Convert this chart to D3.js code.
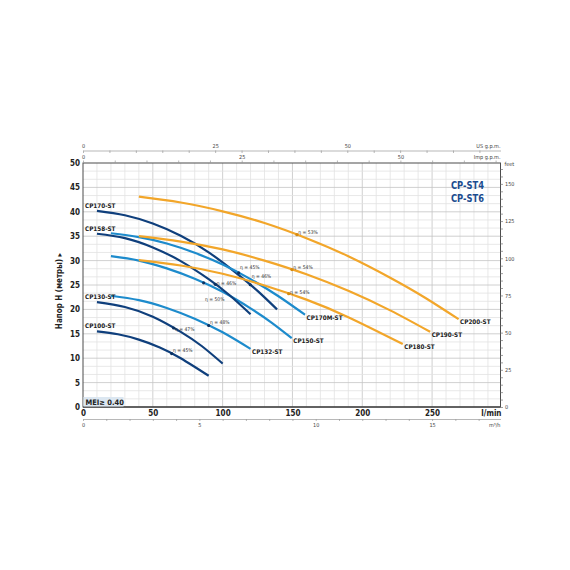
<!DOCTYPE html>
<html>
<head>
<meta charset="utf-8">
<script src="https://cdn.jsdelivr.net/npm/d3@7"></script>
<style>
  body { margin: 0; background: #fff; }
  svg { display: block; }
  text { font-family: "Liberation Sans Narrow", "DejaVu Sans Condensed", "Liberation Sans", sans-serif; }
</style>
</head>
<body>
<svg id="chart"></svg>
<script>
var width = 570;
var height = 570;

// pump curves, Q in l/min, H in metres
var cp100Q = [10, 25, 40, 55, 70, 90];
var cp100H = [15.5, 14.9, 13.8, 12.2, 10.0, 6.4];
var cp130Q = [10, 30, 50, 70, 85, 100];
var cp130H = [21.5, 20.5, 18.5, 15.4, 12.5, 8.9];
var cp132Q = [20, 40, 60, 80, 100, 120];
var cp132H = [22.8, 21.9, 20.3, 18.1, 15.3, 11.9];
var cp150Q = [20, 40, 60, 80, 100, 120, 135, 149.5];
var cp150H = [30.9, 30.0, 28.4, 26.3, 23.6, 20.2, 17.3, 14.1];
var cp158Q = [10, 30, 50, 70, 90, 105, 120];
var cp158H = [35.5, 34.6, 32.7, 29.9, 26.2, 22.9, 19.0];
var cp170Q = [10, 30, 50, 70, 90, 110, 125, 139];
var cp170H = [40.2, 39.3, 37.6, 35.1, 31.7, 27.4, 23.8, 20.0];
var cp170mQ = [20, 40, 60, 80, 100, 120, 140, 159];
var cp170mH = [35.6, 34.8, 33.5, 31.6, 29.2, 26.2, 22.7, 18.9];
var cp180Q = [40, 70, 100, 130, 160, 190, 229];
var cp180H = [30.1, 29.0, 27.3, 24.9, 22.0, 18.4, 12.9];
var cp190Q = [40, 70, 100, 130, 160, 190, 220, 248.6];
var cp190H = [35.0, 33.9, 32.3, 30.0, 27.2, 23.8, 19.8, 15.4];
var cp200Q = [40, 70, 100, 130, 160, 190, 220, 245, 269];
var cp200H = [43.1, 41.9, 40.1, 37.7, 34.6, 30.9, 26.5, 22.4, 18.0];

var pumpNames = ["CP100-ST", "CP130-ST", "CP132-ST", "CP150-ST", "CP158-ST",
                 "CP170-ST", "CP170M-ST", "CP180-ST", "CP190-ST", "CP200-ST"];
var pumpGroup = ["dark", "dark", "light", "light", "dark",
                 "dark", "light", "orange", "orange", "orange"];
var pumpLabelSide = ["left", "left", "right", "right", "left",
                     "left", "right", "right", "right", "right"];
var pumpQ = [cp100Q, cp130Q, cp132Q, cp150Q, cp158Q, cp170Q, cp170mQ, cp180Q, cp190Q, cp200Q];
var pumpH = [cp100H, cp130H, cp132H, cp150H, cp158H, cp170H, cp170mH, cp180H, cp190H, cp200H];

// efficiency notes: which pump, text, where the note starts (l/min, m)
var etaPump = ["CP200-ST", "CP190-ST", "CP180-ST", "CP170M-ST", "CP170-ST",
               "CP158-ST", "CP150-ST", "CP132-ST", "CP130-ST", "CP100-ST"];
var etaText = ["η = 53%", "η = 54%", "η = 54%", "η = 45%", "η = 46%",
               "η = 46%", "η = 50%", "η = 48%", "η = 47%", "η = 45%"];
var etaQ = [154.2, 150.6, 148.3, 112.5, 120.8, 95.8, 87.4, 91.0, 65.9, 64.5];
var etaH = [35.5, 28.2, 23.2, 28.3, 26.5, 25.0, 21.8, 17.0, 15.6, 11.3];

var flowTicks = [0, 50, 100, 150, 200, 250];
var headTicks = [0, 5, 10, 15, 20, 25, 30, 35, 40, 45, 50];
var m3hLabels = [0, 5, 10, 15];
var gpmLabels = [0, 25, 50];
var feetLabels = [0, 25, 50, 75, 100, 125, 150];

var colors = { dark: "#0f3f7c", light: "#1d8bcc", orange: "#f2a62a" };

var pumps = pumpNames.map((n, i) => ({
  name: n,
  group: pumpGroup[i],
  side: pumpLabelSide[i],
  points: pumpQ[i].map((q, j) => ({ q: q, h: pumpH[i][j] }))
}));

var plotLeft = 83, plotRight = 500.5, plotTop = 163, plotBottom = 407;

var xScale = d3.scaleLinear().domain([0, 299]).range([plotLeft, plotRight]);
var yScale = d3.scaleLinear().domain([0, 50]).range([plotBottom, plotTop]);

var usScale = d3.scaleLinear().domain([0, 299 / 3.78541]).range([plotLeft, plotRight]);
var impScale = d3.scaleLinear().domain([0, 299 / 4.54609]).range([plotLeft, plotRight]);
var m3hScale = d3.scaleLinear().domain([0, 299 / 16.6667]).range([plotLeft, plotRight]);
var feetScale = d3.scaleLinear().domain([0, 50 / 0.3048]).range([plotBottom, plotTop]);

var svg = d3.select("#chart")
            .attr("width", width)
            .attr("height", height);

// grid
var grid = svg.append("g");
grid.selectAll(".vgrid")
    .data(d3.range(10, 299, 10))
    .enter()
    .append("line")
      .attr("x1", d => xScale(d))
      .attr("x2", d => xScale(d))
      .attr("y1", plotTop)
      .attr("y2", plotBottom)
      .attr("stroke", d => d % 50 == 0 ? "#c4c4c4" : "#e2e2e2")
      .attr("stroke-width", 0.8);

grid.selectAll(".hgrid")
    .data(d3.range(1, 30))
    .enter()
    .append("line")
      .attr("x1", plotLeft)
      .attr("x2", plotRight)
      .attr("y1", d => yScale(d * 5 / 3))
      .attr("y2", d => yScale(d * 5 / 3))
      .attr("stroke", d => d % 3 == 0 ? "#c4c4c4" : "#e2e2e2")
      .attr("stroke-width", 0.8);

// frame
svg.append("rect")
    .attr("x", plotLeft)
    .attr("y", plotTop)
    .attr("width", plotRight - plotLeft)
    .attr("height", plotBottom - plotTop)
    .attr("fill", "none")
    .attr("stroke", "#4d4d4d")
    .attr("stroke-width", 1);
svg.append("line")
    .attr("x1", plotLeft).attr("x2", plotRight)
    .attr("y1", plotBottom).attr("y2", plotBottom)
    .attr("stroke", "#4d4d4d")
    .attr("stroke-width", 1.6);

// left axis (metres)
var yAxis = d3.axisLeft(yScale)
              .tickValues(headTicks)
              .tickSize(0)
              .tickPadding(3);
var gy = svg.append("g")
    .attr("transform", "translate(" + plotLeft + ",0)")
    .call(yAxis);
gy.select(".domain").remove();
gy.selectAll("text")
    .attr("font-size", 8)
    .attr("font-weight", "bold")
    .attr("font-family", null)
    .attr("fill", "#222");

svg.append("text")
    .attr("transform", "translate(62,291) rotate(-90)")
    .attr("text-anchor", "middle")
    .attr("font-size", 8)
    .attr("font-weight", "bold")
    .attr("fill", "#222")
    .text("Напор H (метры) ▸");

// bottom axis (l/min)
var xAxis = d3.axisBottom(xScale)
              .tickValues(flowTicks)
              .tickSize(0)
              .tickPadding(3);
var gx = svg.append("g")
    .attr("transform", "translate(0," + plotBottom + ")")
    .call(xAxis);
gx.select(".domain").remove();
gx.selectAll("text")
    .attr("font-size", 8)
    .attr("font-weight", "bold")
    .attr("font-family", null)
    .attr("fill", "#222");

svg.append("text")
    .attr("x", plotRight + 1)
    .attr("y", 416)
    .attr("text-anchor", "end")
    .attr("font-size", 8)
    .attr("font-weight", "bold")
    .attr("fill", "#222")
    .text("l/min");

// m3/h axis
var m3hAxis = d3.axisBottom(m3hScale)
                .tickValues(d3.range(0, 18))
                .tickSizeInner(2)
                .tickSizeOuter(0)
                .tickPadding(2)
                .tickFormat(d => m3hLabels.indexOf(d) >= 0 ? d : "");
var gm = svg.append("g")
    .attr("transform", "translate(0,419)")
    .call(m3hAxis);
gm.select(".domain").attr("stroke", "#999").attr("stroke-width", 0.7);
gm.selectAll(".tick line").attr("stroke", "#999").attr("stroke-width", 0.7);
gm.selectAll("text")
    .attr("font-size", 5.5)
    .attr("font-family", null)
    .attr("fill", "#444");
svg.append("text")
    .attr("x", plotRight)
    .attr("y", 426.5)
    .attr("text-anchor", "end")
    .attr("font-size", 5.5)
    .attr("fill", "#444")
    .text("m³/h");

// US g.p.m. axis
var usAxis = d3.axisTop(usScale)
               .tickValues(d3.range(0, 80, 5))
               .tickSizeInner(-2.5)
               .tickSizeOuter(0)
               .tickPadding(3)
               .tickFormat(d => gpmLabels.indexOf(d) >= 0 ? d : "");
var gu = svg.append("g")
    .attr("transform", "translate(0,150.5)")
    .call(usAxis);
gu.select(".domain").attr("stroke", "#999").attr("stroke-width", 0.7);
gu.selectAll(".tick line").attr("stroke", "#999").attr("stroke-width", 0.7);
gu.selectAll("text")
    .attr("font-size", 5.5)
    .attr("font-family", null)
    .attr("fill", "#444");
svg.append("text")
    .attr("x", plotRight)
    .attr("y", 147.5)
    .attr("text-anchor", "end")
    .attr("font-size", 5.5)
    .attr("fill", "#444")
    .text("US g.p.m.");

// Imp g.p.m. axis
var impAxis = d3.axisTop(impScale)
                .tickValues(d3.range(0, 66, 5))
                .tickSizeInner(2.5)
                .tickSizeOuter(0)
                .tickPadding(1.5)
                .tickFormat(d => gpmLabels.indexOf(d) >= 0 ? d : "");
var gi = svg.append("g")
    .attr("transform", "translate(0," + plotTop + ")")
    .call(impAxis);
gi.select(".domain").remove();
gi.selectAll(".tick line").attr("stroke", "#999").attr("stroke-width", 0.7);
gi.selectAll("text")
    .attr("font-size", 5.5)
    .attr("font-family", null)
    .attr("fill", "#444");
svg.append("text")
    .attr("x", plotRight)
    .attr("y", 159)
    .attr("text-anchor", "end")
    .attr("font-size", 5.5)
    .attr("fill", "#444")
    .text("Imp g.p.m.");

// feet axis
var feetAxis = d3.axisRight(feetScale)
                 .tickValues(d3.range(0, 165, 5))
                 .tickSizeInner(2.5)
                 .tickSizeOuter(0)
                 .tickPadding(2)
                 .tickFormat(d => feetLabels.indexOf(d) >= 0 ? d : "");
var gf = svg.append("g")
    .attr("transform", "translate(" + plotRight + ",0)")
    .call(feetAxis);
gf.select(".domain").remove();
gf.selectAll(".tick line").attr("stroke", "#777").attr("stroke-width", 0.7);
gf.selectAll("text")
    .attr("font-size", 5.5)
    .attr("font-family", null)
    .attr("fill", "#444");
svg.append("text")
    .attr("x", plotRight + 4)
    .attr("y", 166)
    .attr("font-size", 5.5)
    .attr("fill", "#444")
    .text("feet");

// curves
var line = d3.line()
             .x(d => xScale(d.q))
             .y(d => yScale(d.h))
             .curve(d3.curveNatural);

svg.append("g")
  .selectAll("path")
  .data(pumps)
  .enter()
  .append("path")
    .attr("d", d => line(d.points))
    .attr("fill", "none")
    .attr("stroke", d => colors[d.group])
    .attr("stroke-width", 2.2)
    .attr("stroke-linecap", "butt");

// pump names
svg.append("g")
  .selectAll("text")
  .data(pumps)
  .enter()
  .append("text")
    .attr("x", d => d.side == "left" ? 85 : xScale(d.points[d.points.length - 1].q) + 1.5)
    .attr("y", d => d.side == "left" ? yScale(d.points[0].h) - 3 : yScale(d.points[d.points.length - 1].h) + 5)
    .attr("font-size", 6.3)
    .attr("font-weight", "bold")
    .attr("fill", "#222")
    .text(d => d.name);

// efficiency notes
var etaNotes = etaPump.map((p, i) => {
  var pump = pumps[pumpNames.indexOf(p)];
  var onCurve = d3.scaleLinear()
                  .domain(pump.points.map(d => d.q))
                  .range(pump.points.map(d => d.h));
  return { q: etaQ[i], h: etaH[i], text: etaText[i], dotH: onCurve(etaQ[i] - 1), group: pump.group };
});

svg.append("g")
  .selectAll("circle")
  .data(etaNotes)
  .enter()
  .append("circle")
    .attr("cx", d => xScale(d.q - 1))
    .attr("cy", d => yScale(d.dotH))
    .attr("r", 1.6)
    .attr("fill", d => d.group == "orange" ? "#d58a10" : "#0b3262");

svg.append("g")
  .selectAll("text")
  .data(etaNotes)
  .enter()
  .append("text")
    .attr("x", d => xScale(d.q))
    .attr("y", d => yScale(d.h))
    .attr("font-size", 5)
    .attr("fill", "#333")
    .text(d => d.text);

// title
svg.append("text")
    .attr("x", 484)
    .attr("y", 189)
    .attr("text-anchor", "end")
    .attr("font-size", 11)
    .attr("font-weight", "bold")
    .attr("fill", "#1b4c8f")
    .attr("textLength", 33)
    .attr("lengthAdjust", "spacingAndGlyphs")
    .text("CP-ST4");
svg.append("text")
    .attr("x", 484)
    .attr("y", 201.5)
    .attr("text-anchor", "end")
    .attr("font-size", 11)
    .attr("font-weight", "bold")
    .attr("fill", "#1b4c8f")
    .attr("textLength", 33)
    .attr("lengthAdjust", "spacingAndGlyphs")
    .text("CP-ST6");

// MEI box
svg.append("rect")
    .attr("x", plotLeft + 0.5)
    .attr("y", 397)
    .attr("width", 40)
    .attr("height", 9.5)
    .attr("fill", "#dce7f1");
svg.append("text")
    .attr("x", plotLeft + 2.5)
    .attr("y", 404.5)
    .attr("font-size", 7.5)
    .attr("font-weight", "bold")
    .attr("fill", "#222")
    .text("MEI≥ 0.40");
</script>
</body>
</html>
